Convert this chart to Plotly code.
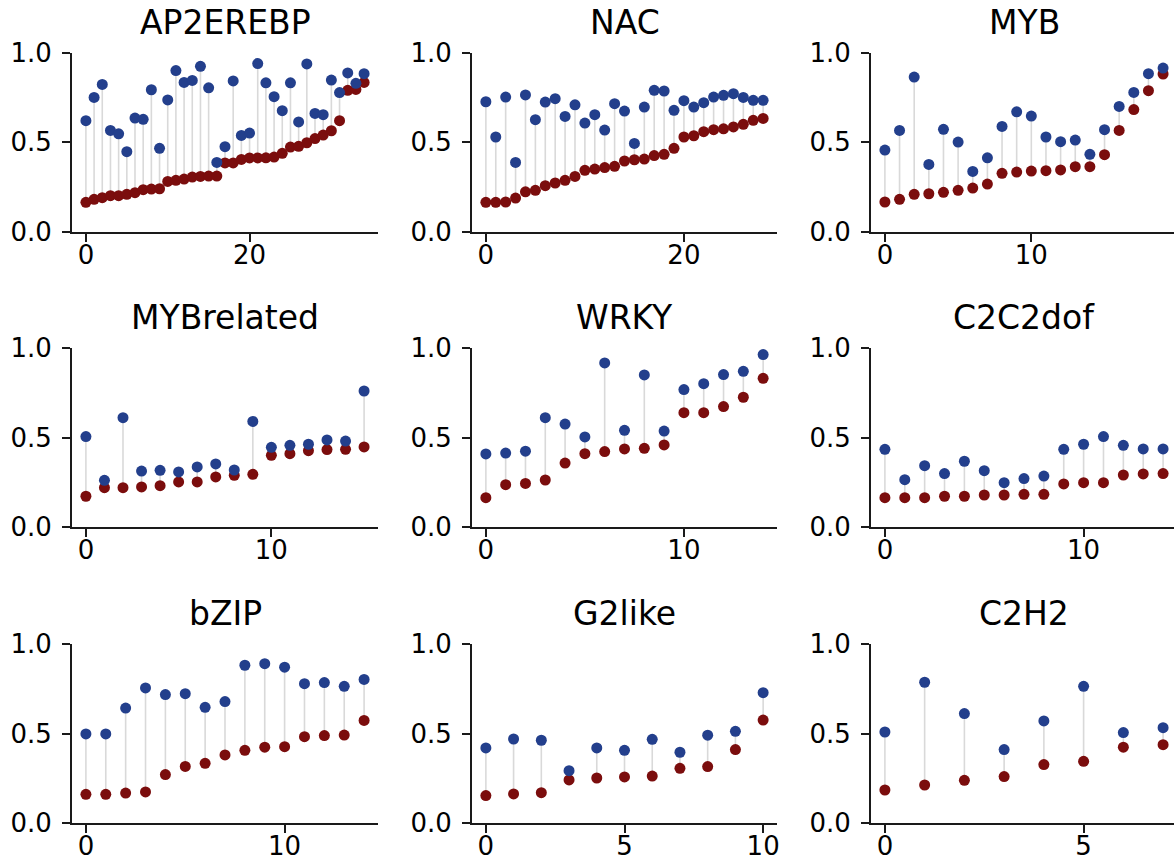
import plotly.graph_objects as go

# Per-family scores: lower (red) and upper (blue) value for each member
titles = ["AP2EREBP", "NAC", "MYB", "MYBrelated", "WRKY", "C2C2dof", "bZIP", "G2like", "C2H2"]

ap2_low = [0.164, 0.181, 0.190, 0.201, 0.201, 0.209, 0.218, 0.235, 0.238, 0.240,
           0.281, 0.287, 0.294, 0.305, 0.309, 0.311, 0.311, 0.384, 0.384, 0.404,
           0.412, 0.412, 0.413, 0.417, 0.438, 0.473, 0.477, 0.497, 0.520, 0.540,
           0.564, 0.620, 0.790, 0.795, 0.834]
ap2_high = [0.620, 0.750, 0.823, 0.566, 0.547, 0.447, 0.635, 0.628, 0.793, 0.466,
            0.736, 0.900, 0.834, 0.845, 0.924, 0.804, 0.387, 0.475, 0.842, 0.538,
            0.551, 0.939, 0.832, 0.754, 0.676, 0.832, 0.613, 0.937, 0.661, 0.654,
            0.847, 0.777, 0.887, 0.829, 0.883]

nac_low = [0.164, 0.164, 0.166, 0.188, 0.223, 0.231, 0.257, 0.272, 0.287, 0.309,
           0.343, 0.350, 0.358, 0.365, 0.395, 0.402, 0.406, 0.425, 0.432, 0.466,
           0.529, 0.536, 0.559, 0.570, 0.575, 0.585, 0.600, 0.622, 0.633]
nac_high = [0.726, 0.529, 0.752, 0.387, 0.764, 0.626, 0.724, 0.743, 0.644, 0.709,
            0.607, 0.654, 0.568, 0.715, 0.674, 0.493, 0.696, 0.790, 0.786, 0.678,
            0.732, 0.696, 0.721, 0.752, 0.762, 0.771, 0.750, 0.734, 0.734]

myb_low = [0.166, 0.181, 0.209, 0.212, 0.220, 0.231, 0.244, 0.266, 0.326, 0.333,
           0.339, 0.341, 0.345, 0.363, 0.363, 0.430, 0.566, 0.682, 0.788, 0.881]
myb_high = [0.456, 0.566, 0.864, 0.376, 0.572, 0.501, 0.337, 0.413, 0.588, 0.670,
            0.646, 0.529, 0.503, 0.512, 0.432, 0.570, 0.700, 0.778, 0.883, 0.914]

mybrel_low = [0.172, 0.220, 0.220, 0.224, 0.231, 0.252, 0.252, 0.280, 0.289, 0.295,
              0.401, 0.410, 0.427, 0.433, 0.435, 0.448]
mybrel_high = [0.506, 0.261, 0.612, 0.313, 0.317, 0.308, 0.336, 0.353, 0.319, 0.591,
               0.446, 0.457, 0.463, 0.487, 0.481, 0.761]

wrky_low = [0.164, 0.237, 0.244, 0.263, 0.358, 0.410, 0.422, 0.437, 0.440, 0.459,
            0.640, 0.640, 0.674, 0.726, 0.832]
wrky_high = [0.409, 0.414, 0.424, 0.612, 0.576, 0.504, 0.918, 0.541, 0.851, 0.537,
             0.769, 0.802, 0.853, 0.871, 0.965]

c2c2_low = [0.164, 0.164, 0.164, 0.172, 0.172, 0.179, 0.179, 0.183, 0.183, 0.241,
            0.248, 0.248, 0.291, 0.297, 0.299]
c2c2_high = [0.435, 0.265, 0.343, 0.299, 0.368, 0.315, 0.248, 0.271, 0.285, 0.435,
             0.463, 0.506, 0.457, 0.437, 0.437]

bzip_low = [0.162, 0.162, 0.169, 0.175, 0.272, 0.318, 0.335, 0.382, 0.408, 0.425,
            0.428, 0.484, 0.490, 0.493, 0.575]
bzip_high = [0.499, 0.499, 0.644, 0.756, 0.719, 0.724, 0.648, 0.680, 0.883, 0.892,
             0.872, 0.780, 0.786, 0.765, 0.804]

g2_low = [0.155, 0.164, 0.171, 0.242, 0.253, 0.259, 0.264, 0.307, 0.317, 0.412, 0.577]
g2_high = [0.421, 0.471, 0.464, 0.294, 0.421, 0.408, 0.469, 0.397, 0.492, 0.514, 0.730]

c2h2_low = [0.186, 0.214, 0.240, 0.261, 0.328, 0.346, 0.425, 0.439]
c2h2_high = [0.510, 0.788, 0.613, 0.412, 0.572, 0.765, 0.507, 0.534]

lows = [ap2_low, nac_low, myb_low, mybrel_low, wrky_low, c2c2_low, bzip_low, g2_low, c2h2_low]
highs = [ap2_high, nac_high, myb_high, mybrel_high, wrky_high, c2c2_high, bzip_high, g2_high, c2h2_high]

x_ticks = [[0, 20], [0, 20], [0, 10], [0, 10], [0, 10], [0, 10], [0, 10], [0, 5, 10], [0, 5]]
y_ticks = [0.0, 0.5, 1.0]

# Page geometry (pixels)
W, H = 1174, 868
col_px = [(72, 378), (472, 777), (871, 1177)]
row_px = [(52.7, 231.7), (348.3, 527.0), (644.3, 823.3)]

RED = "#7b0d0d"
BLUE = "#233f8c"
STEM = "rgba(185,185,185,0.55)"
AXIS = "#1a1a1a"
FONT = "DejaVu Sans"
TICK_SIZE = 26
TITLE_SIZE = 33

fig = go.Figure()
layout = dict(
    width=W, height=H,
    margin=dict(l=0, r=0, t=0, b=0, autoexpand=False),
    paper_bgcolor="white", plot_bgcolor="white",
    showlegend=False,
    font=dict(family=FONT, color="black"),
)
annotations = []

for k in range(9):
    r, c = divmod(k, 3)
    lo, hi = lows[k], highs[k]
    n = len(lo)
    idx = list(range(n))
    sfx = "" if k == 0 else str(k + 1)
    xa, ya = "x" + sfx, "y" + sfx

    # stems between the two values
    sx, sy = [], []
    for i in idx:
        sx += [i, i, None]
        sy += [lo[i], hi[i], None]
    fig.add_trace(go.Scatter(x=sx, y=sy, mode="lines", xaxis=xa, yaxis=ya,
                             line=dict(color=STEM, width=1.6), hoverinfo="skip"))
    fig.add_trace(go.Scatter(x=idx, y=lo, mode="markers", xaxis=xa, yaxis=ya,
                             marker=dict(color=RED, size=11, line=dict(width=0))))
    fig.add_trace(go.Scatter(x=idx, y=hi, mode="markers", xaxis=xa, yaxis=ya,
                             marker=dict(color=BLUE, size=11, line=dict(width=0))))

    x0p, x1p = col_px[c]
    y0p, y1p = row_px[r]
    full_lo, full_hi = -0.05 * (n - 1), 1.05 * (n - 1)
    vis_x1 = min(x1p, W)
    frac = (vis_x1 - x0p) / (x1p - x0p)
    rng_hi = full_lo + (full_hi - full_lo) * frac

    axis_common = dict(
        showline=True, linecolor=AXIS, linewidth=1.8,
        ticks="outside", ticklen=8, tickwidth=1.8, tickcolor=AXIS,
        showgrid=False, zeroline=False, automargin=False,
        tickfont=dict(family=FONT, size=TICK_SIZE, color="black"),
        fixedrange=True,
    )
    layout["xaxis" + sfx] = dict(
        axis_common,
        domain=[x0p / W, vis_x1 / W], anchor=ya,
        range=[full_lo, rng_hi], tickvals=x_ticks[k],
        ticktext=[str(t) for t in x_ticks[k]],
        ticklabelstandoff=-9,
    )
    layout["yaxis" + sfx] = dict(
        axis_common,
        domain=[1 - y1p / H, 1 - y0p / H], anchor=xa,
        range=[0, 1], tickvals=y_ticks,
        ticktext=[f"{t:.1f}" for t in y_ticks],
        ticklabelstandoff=5,
    )
    annotations.append(dict(
        text=titles[k], xref="paper", yref="paper",
        x=(x0p + x1p) / 2 / W, y=1 - y0p / H,
        xanchor="center", yanchor="bottom", yshift=9,
        showarrow=False, font=dict(family=FONT, size=TITLE_SIZE, color="black"),
    ))

layout["annotations"] = annotations
fig.update_layout(**layout)
fig.write_html("out.html")
